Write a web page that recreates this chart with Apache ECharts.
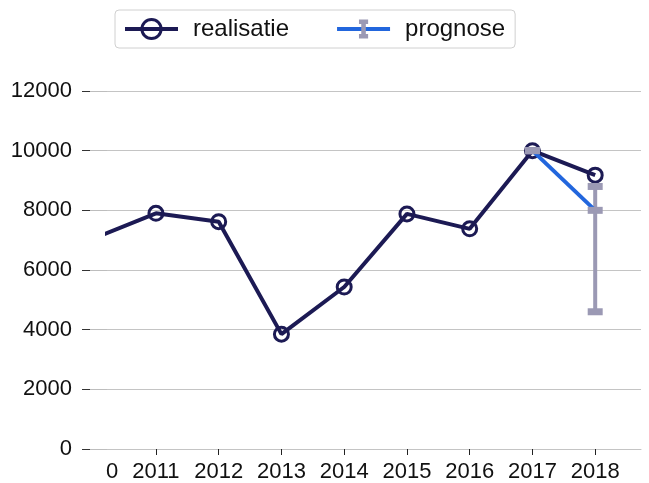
<!DOCTYPE html>
<html>
<head>
<meta charset="utf-8">
<script src="https://cdn.jsdelivr.net/npm/echarts@6/dist/echarts.min.js"></script>
<style>
	html,body{margin:0;padding:0;background:#fff;}
	#chart{width:649px;height:483px;}
</style>
</head>
<body>
<div id="chart"></div>
<script>
// data
var years = [2010,2011,2012,2013,2014,2015,2016,2017,2018];
var realisatie = [7050,7900,7620,3850,5430,7880,7380,10000,9180];
var prognoseYears = [2017,2018];
var prognose = [10000,8000];
var errLow = [10000,4600];
var errHigh = [10000,8800];
var tickYears = [2011,2012,2013,2014,2015,2016,2017,2018];

var navy = '#1c1a54';
var blue = '#2266dd';
var gray = '#9b99b4';
var font = 'Liberation Sans, Arial, sans-serif';

// "I" shaped legend symbol for the error bar (extra moveTo keeps it narrow)
var iconI = 'path://M0,10.5L0,10.5M5.5,0L15.5,0L15.5,5L13,5L13,16L15.5,16L15.5,21L5.5,21L5.5,16L8,16L8,5L5.5,5Z M21,10.5L21,10.5';

var chart = echarts.init(document.getElementById('chart'));
var option = {
	animation:false,
	backgroundColor:'#fff',
	textStyle:{fontFamily:font},
	legend:{
		left:115,
		top:10,
		padding:[7,10,7,8],
		borderColor:'#d0d0d0',
		borderWidth:1,
		borderRadius:4,
		itemWidth:53,
		itemHeight:24,
		itemGap:46,
		data:[
			{name:'realisatie',itemStyle:{color:'rgba(0,0,0,0)',borderColor:navy,borderWidth:3},lineStyle:{color:navy,width:4}},
			{name:'prognose',itemStyle:{color:gray,borderWidth:0},lineStyle:{color:blue,width:4}}
		],
		textStyle:{fontSize:24,color:'#111',fontFamily:font,padding:[0,0,0,10]}
	},
	grid:{left:107,right:8,top:91,bottom:34},
	xAxis:{
		type:'value',
		min:2010.22,
		max:2018.73,
		splitLine:{show:false},
		axisLine:{show:true,lineStyle:{color:'#c4c4c4',width:1}},
		axisTick:{show:true,length:6,customValues:tickYears,lineStyle:{color:'#222',width:1}},
		axisLabel:{
			customValues:[2010.3].concat(tickYears),
			margin:12,
			fontSize:22,
			color:'#111',
			fontFamily:font,
			formatter:function(v){ return v < 2011 ? '0' : String(v); }
		}
	},
	yAxis:[
		{
			type:'value',
			min:0,
			max:12000,
			interval:2000,
			axisLine:{show:false},
			axisTick:{show:true,length:17,lineStyle:{color:'#bdbdbd'}},
			splitLine:{show:true,lineStyle:{color:'#c4c4c4',width:1}},
			axisLabel:{margin:35,fontSize:22,color:'#111',fontFamily:font,
				formatter:function(v){ return String(v); }}
		},
		{
			type:'value',
			position:'left',
			offset:17,
			min:0,
			max:12000,
			interval:2000,
			axisLine:{show:false},
			axisTick:{show:true,length:8,lineStyle:{color:'#333'}},
			splitLine:{show:false},
			axisLabel:{show:false}
		}
	],
	series:[
		{
			name:'realisatie',
			type:'line',
			z:2,
			clip:true,
			data:years.map(function(y,i){ return [y,realisatie[i]]; }),
			symbol:'circle',
			symbolSize:14,
			lineStyle:{color:navy,width:4},
			itemStyle:{color:'rgba(0,0,0,0)',borderColor:navy,borderWidth:3}
		},
		{
			name:'errorbar',
			type:'custom',
			z:3,
			data:prognoseYears.map(function(y,i){ return [y,errLow[i],errHigh[i]]; }),
			encode:{x:0,y:[1,2]},
			renderItem:function(params,api){
				var lo = api.coord([api.value(0),api.value(1)]);
				var hi = api.coord([api.value(0),api.value(2)]);
				var cw = 15, ch = 7;
				return {
					type:'group',
					children:[
						{type:'line',shape:{x1:lo[0],y1:lo[1],x2:hi[0],y2:hi[1]},style:{stroke:gray,lineWidth:4}},
						{type:'rect',shape:{x:hi[0]-cw/2,y:hi[1]-ch/2,width:cw,height:ch},style:{fill:gray}},
						{type:'rect',shape:{x:lo[0]-cw/2,y:lo[1]-ch/2,width:cw,height:ch},style:{fill:gray}}
					]
				};
			}
		},
		{
			name:'prognose',
			type:'line',
			z:4,
			symbol:iconI,
			data:prognoseYears.map(function(y,i){ return {value:[y,prognose[i]],symbol:'rect',symbolSize:[15,7]}; }),
			lineStyle:{color:blue,width:4},
			itemStyle:{color:gray,borderWidth:0}
		}
	]
};
chart.setOption(option);
</script>
</body>
</html>
